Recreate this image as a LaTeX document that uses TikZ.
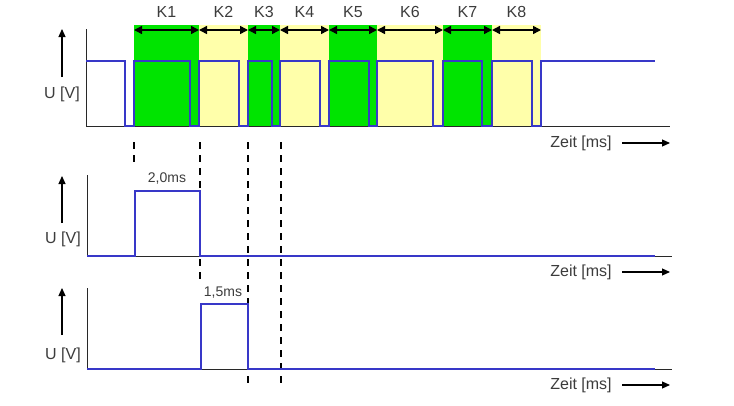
\documentclass[tikz,border=0pt]{standalone}
\usepackage{fontspec}
\setmainfont{Liberation Sans}
\usetikzlibrary{arrows.meta}
\definecolor{sigblue}{RGB}{56,56,200}
\definecolor{kgreen}{RGB}{0,228,0}
\definecolor{kyellow}{RGB}{255,255,170}
\definecolor{txtgrey}{RGB}{60,60,60}
\definecolor{axgrey}{RGB}{40,40,40}
\tikzset{
  sig/.style={draw=sigblue, line width=2.2pt, line join=miter},
  axis/.style={draw=axgrey, line width=1pt},
  guide/.style={draw=black, line width=1.1pt, dash pattern=on 7pt off 6pt},
  uparrow/.style={draw=black, line width=1.1pt, -{Triangle[length=8pt,width=7pt]}},
  karrow/.style={draw=black, line width=1.5pt, {Triangle[length=8pt,width=8pt]}-{Triangle[length=8pt,width=8pt]}},
  lbl/.style={text=txtgrey, font=\fontsize{16}{16}\selectfont, inner sep=0pt},
  plbl/.style={text=txtgrey, font=\fontsize{14}{14}\selectfont, inner sep=0pt},
  gbox/.style={fill=kgreen, draw=none},
  ybox/.style={fill=kyellow, draw=none}
}
\begin{document}
\begin{tikzpicture}[x=1pt,y=-1pt]
\useasboundingbox (0,0) rectangle (734,405);
% coloured regions
\fill[gbox] (134,25) rectangle (199,126);
\fill[ybox] (199,25) rectangle (248,126);
\fill[gbox] (248,25) rectangle (280,126);
\fill[ybox] (280,25) rectangle (329,126);
\fill[gbox] (329,25) rectangle (377,126);
\fill[ybox] (377,25) rectangle (443,126);
\fill[gbox] (443,25) rectangle (492,126);
\fill[ybox] (492,25) rectangle (541,126);
% K arrows and labels
\foreach \a/\b/\n in {134/199/K1,199/248/K2,248/280/K3,280/329/K4,329/377/K5,377/443/K6,443/492/K7,492/541/K8}{
  \coordinate (\n-a) at (\a,30);
  \coordinate (\n-b) at (\b,30);
  \draw[karrow] (\n-a) -- (\n-b);
  \node[lbl] (\n-t) at ({(\a+\b)/2},12) {\n};
}
% guide lines
\coordinate (g1a) at (134,142); \coordinate (g1b) at (134,166);
\coordinate (g2a) at (200,142); \coordinate (g2b) at (200,281);
\coordinate (g3a) at (248,142); \coordinate (g3b) at (248,389);
\coordinate (g4a) at (281,142); \coordinate (g4b) at (281,389);
\draw[guide] (g1a) -- (g1b);
\draw[guide] (g2a) -- (g2b);
\draw[guide] (g3a) -- (g3b);
\draw[guide] (g4a) -- (g4b);
% axes panel 1
\coordinate (o1) at (86,126); \coordinate (t1) at (86,29); \coordinate (e1) at (670,126);
\draw[axis] (t1) -- (o1) -- (e1);
\coordinate (ua1) at (62,77); \coordinate (ub1) at (62,29);
\draw[uparrow] (ua1) -- (ub1);
\node[lbl] (u1) at (62,94) {U [V]};
\node[lbl] (z1) at (581,143) {Zeit [ms]};
\coordinate (za1) at (622,143); \coordinate (zb1) at (670,143);
\draw[uparrow] (za1) -- (zb1);
% axes panel 2
\coordinate (o2) at (87,256); \coordinate (t2) at (87,175); \coordinate (e2) at (672,256);
\draw[axis] (t2) -- (o2) -- (e2);
\coordinate (ua2) at (62,223); \coordinate (ub2) at (62,176);
\draw[uparrow] (ua2) -- (ub2);
\node[lbl] (u2) at (63,239) {U [V]};
\node[lbl] (z2) at (581,272) {Zeit [ms]};
\coordinate (za2) at (622,272); \coordinate (zb2) at (670,272);
\draw[uparrow] (za2) -- (zb2);
% axes panel 3
\coordinate (o3) at (87,369); \coordinate (t3) at (87,288); \coordinate (e3) at (672,369);
\draw[axis] (t3) -- (o3) -- (e3);
\coordinate (ua3) at (62,335); \coordinate (ub3) at (62,288);
\draw[uparrow] (ua3) -- (ub3);
\node[lbl] (u3) at (63,355) {U [V]};
\node[lbl] (z3) at (581,385) {Zeit [ms]};
\coordinate (za3) at (622,385); \coordinate (zb3) at (670,385);
\draw[uparrow] (za3) -- (zb3);
% signal panel 1
\draw[sig] (86,61) -- (125,61) -- (125,126) -- (134,126) -- (134,61) -- (190,61) -- (190,126) -- (199,126) -- (199,61) -- (239,61) -- (239,126) -- (248,126) -- (248,61) -- (272,61) -- (272,126) -- (280,126) -- (280,61) -- (320,61) -- (320,126) -- (329,126) -- (329,61) -- (369,61) -- (369,126) -- (377,126) -- (377,61) -- (433,61) -- (433,126) -- (443,126) -- (443,61) -- (482,61) -- (482,126) -- (492,126) -- (492,61) -- (532,61) -- (532,126) -- (541,126) -- (541,61) -- (655,61);
% signal panel 2
\draw[sig] (87,256) -- (135,256) -- (135,191) -- (200,191) -- (200,256) -- (655,256);
\node[plbl] (p1) at (167,179) {2,0ms};
% signal panel 3
\draw[sig] (87,369) -- (201,369) -- (201,304) -- (248,304) -- (248,369) -- (655,369);
\node[plbl] (p2) at (223,293) {1,5ms};
\end{tikzpicture}
\end{document}
